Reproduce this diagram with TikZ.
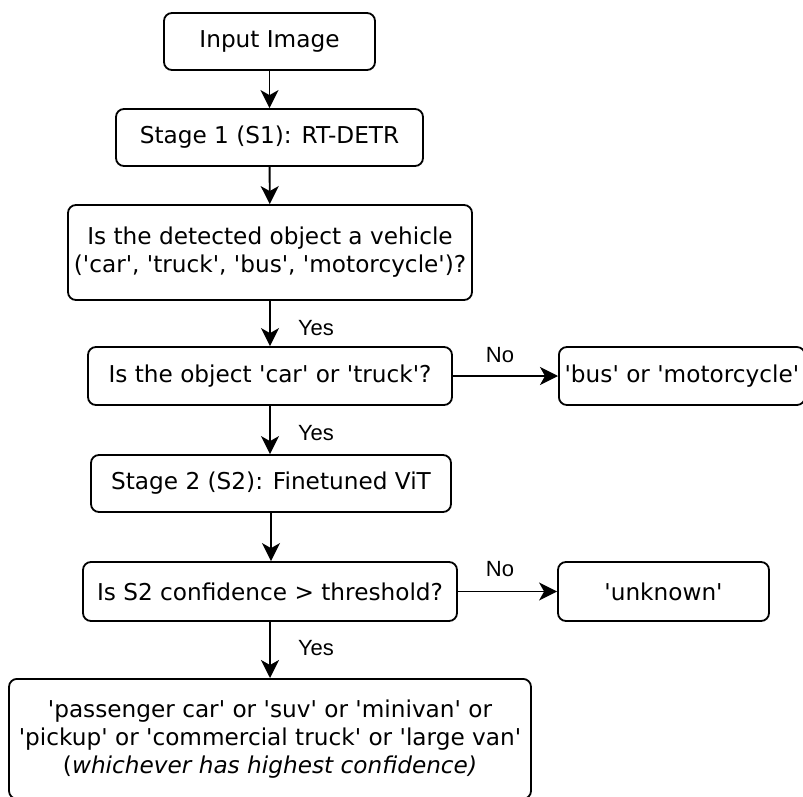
\documentclass[tikz,border=0pt]{standalone}
\usepackage{fontspec}
\setmainfont{DejaVu Sans}[Ligatures=TeXOff]
\newfontfamily\labelfont{Liberation Sans}
\usetikzlibrary{arrows.meta}
\tikzset{
  x=1pt, y=1pt,
  box/.style={draw=black, line width=1.8pt, rounded corners=8pt, inner sep=0pt,
    align=center, font=\fontsize{23.2}{28}\selectfont},
  flow/.style={line width=1.9pt, -{Stealth[length=18pt,width=18pt,inset=5pt]}},
  tag/.style={font=\labelfont\fontsize{22}{24}\selectfont, inner sep=0pt}
}
\begin{document}
\begin{tikzpicture}
\useasboundingbox (0,0) rectangle (803,-797);
\clip (0,0) rectangle (803,-797);
\fill[white] (0,0) rectangle (803,-797);

\node[box, minimum width=211pt, minimum height=57pt] (input) at (269.5,-41.5) {Input Image};
\node[box, minimum width=307pt, minimum height=57pt] (s1) at (269.5,-137.5) {Stage 1 (S1): RT-DETR};
\node[box, minimum width=404pt, minimum height=95pt] (veh) at (270,-252.5)
  {Is the detected object a vehicle\\('car', 'truck', 'bus', 'motorcycle')?};
\node[box, minimum width=364pt, minimum height=58pt] (cart) at (270,-376) {Is the object 'car' or 'truck'?};
\node[box, minimum width=246pt, minimum height=58pt, anchor=west] (bus) at (558,-376) {'bus' or 'motorcycle'};
\node[box, minimum width=360pt, minimum height=57pt] (s2) at (271,-483.5) {Stage 2 (S2): Finetuned ViT};
\node[box, minimum width=374pt, minimum height=59pt] (conf) at (270,-591.5) {Is S2 confidence > threshold?};
\node[box, minimum width=211pt, minimum height=59pt] (unk) at (663.5,-591.5) {'unknown'};
\node[box, minimum width=522pt, minimum height=120pt, anchor=north] (final) at (270,-678)
  {'passenger car' or 'suv' or 'minivan' or\\'pickup' or 'commercial truck' or 'large van'\\(\textit{whichever has highest confidence)}};

\draw[flow] (input) -- (s1);
\draw[flow] (s1) -- (veh);
\draw[flow] (veh) -- (cart);
\draw[flow] (cart) -- (bus);
\draw[flow] (cart) -- (cart.south |- s2.north);
\draw[flow] (s2) -- (s2.south |- conf.north);
\draw[flow] (conf) -- (unk);
\draw[flow] (conf) -- (final.north -| conf.south);

\node[tag] (y1) at (316,-328) {Yes};
\node[tag] (y2) at (316,-433) {Yes};
\node[tag] (y3) at (316,-648) {Yes};
\node[tag] (n1) at (500,-355) {No};
\node[tag] (n2) at (500,-569) {No};
\end{tikzpicture}
\end{document}
